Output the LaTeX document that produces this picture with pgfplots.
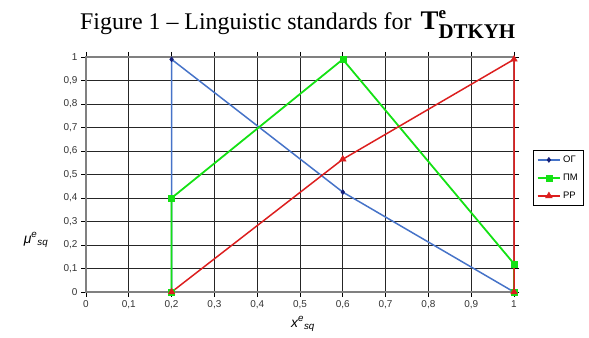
\documentclass[border=0pt]{standalone}
\usepackage{pgfplots}
\pgfplotsset{compat=1.18}
\usepackage{fontspec}
\setmainfont{Liberation Serif}
\newfontfamily\arial{Liberation Sans}
\definecolor{cblue}{RGB}{70,115,200}
\definecolor{cnavy}{RGB}{20,30,120}
\definecolor{cgreen}{RGB}{20,225,20}
\definecolor{cred}{RGB}{220,30,30}
\begin{document}
\begin{tikzpicture}
\begin{axis}[
  at={(86bp,46bp)}, anchor=south west,
  scale only axis, width=428bp, height=235bp,
  xmin=0, xmax=1, ymin=0, ymax=1,
  xtick={0,0.1,...,1.01}, ytick={0,0.1,...,1.01},
  grid=major, major grid style={black!85, line width=0.9pt},
  axis line style={gray, line width=1.2pt},
  tick align=outside, tick style={black, line width=0.9pt}, major tick length=5bp,
  xticklabel style={font=\arial\fontsize{10}{11}\selectfont, text=black!80},
  yticklabel style={font=\arial\fontsize{10}{11}\selectfont, text=black!80},
  /pgf/number format/assume math mode=true,
  /pgf/number format/use comma,
  /pgf/number format/fixed,
  /pgf/number format/precision=1,
  clip=false,
  legend style={at={(1.044,0.604)}, anchor=north west, draw=black, line width=0.7pt,
    font=\arial\fontsize{9.5}{11}\selectfont, inner sep=3.5pt, row sep=6pt},
  legend image code/.code={\draw[#1] (0cm,0cm) -- (0.8cm,0cm); \draw[#1,only marks] plot coordinates {(0.4cm,0cm)};},
  legend cell align=left,
]
\addplot[cblue, line width=1.5pt, mark=diamond*, mark size=2.5pt, mark options={cnavy, fill=cnavy, line width=0.5pt}]
  coordinates {(0.2,0) (0.2,0.99) (0.6,0.425) (1,0)};
\addlegendentry{ОГ}
\addplot[cgreen, line width=1.8pt, mark=square*, mark size=3pt, mark options={cgreen, fill=cgreen, line width=0.5pt}]
  coordinates {(0.2,0) (0.2,0.4) (0.6,0.99) (1,0.12) (1,0)};
\addlegendentry{ПМ}
\addplot[cred, line width=1.5pt, mark=triangle*, mark size=3.8pt, mark options={cred, fill=cred, line width=0.5pt}]
  coordinates {(0.2,0) (0.6,0.565) (1,0.99) (1,0)};
\addlegendentry{РР}
\end{axis}
\node[anchor=base west, inner sep=0pt] at (80bp,308bp)
  {\fontsize{24}{28}\selectfont Figure 1 -- Linguistic standards for\hspace{9bp}{\bfseries\fontsize{27}{30}\selectfont T}\rlap{\raisebox{11bp}{\bfseries\fontsize{17}{20}\selectfont e}}\raisebox{-9bp}{\bfseries\fontsize{21}{24}\selectfont DTKYH}};
\node[font=\arial\itshape\fontsize{14}{16}\selectfont] at (36bp,98bp) {μ\textsuperscript{e}\textsubscript{sq}};
\node[font=\arial\itshape\fontsize{14}{16}\selectfont, anchor=base] at (303bp,11bp) {x\textsuperscript{e}\textsubscript{sq}};
\pgfresetboundingbox
\path[use as bounding box] (0,0) rectangle (589bp,338bp);
\end{tikzpicture}
\end{document}
